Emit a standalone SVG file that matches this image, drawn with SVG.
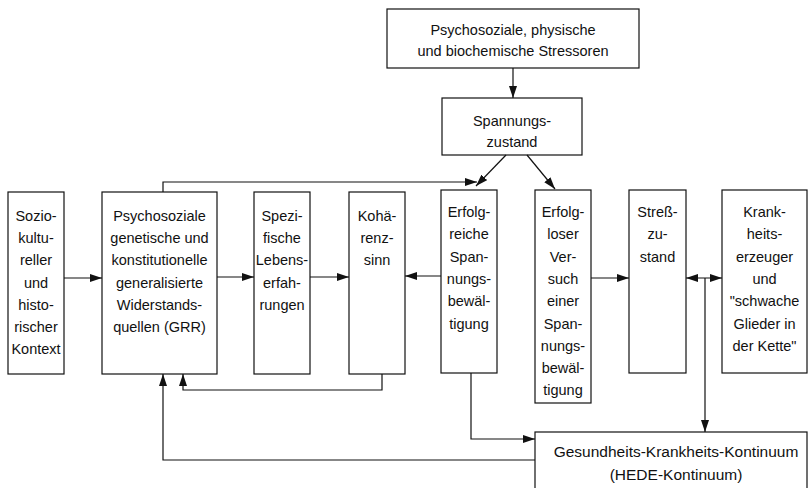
<svg xmlns="http://www.w3.org/2000/svg" width="810" height="488" viewBox="0 0 810 488">
<defs>
<style>
.box{fill:#fff;stroke:#111;stroke-width:1.2}
.t{font-family:"Liberation Sans",Arial,sans-serif;font-size:14.5px;fill:#111;text-anchor:middle}
.big{font-size:15.5px}
.c{fill:none;stroke:#111;stroke-width:1.2}
</style>
<marker id="ah" viewBox="0 0 12 8" refX="12" refY="4" markerWidth="12" markerHeight="8" markerUnits="userSpaceOnUse" orient="auto">
<path d="M0,0 L12,4 L0,8 Z" fill="#111"/>
</marker>
<marker id="ahs" viewBox="0 0 12 8" refX="0" refY="4" markerWidth="12" markerHeight="8" markerUnits="userSpaceOnUse" orient="auto">
<path d="M12,0 L0,4 L12,8 Z" fill="#111"/>
</marker>
</defs>
<rect width="810" height="488" fill="#fff"/>

<g id="stressoren">
<rect class="box" x="387" y="9" width="252" height="59"/>
<text class="t" x="513" y="35">Psychosoziale, physische</text>
<text class="t" x="513" y="56">und biochemische Stressoren</text>
</g>

<g id="spannungszustand">
<rect class="box" x="442" y="98" width="140" height="57"/>
<text class="t" x="512" y="126">Spannungs-</text>
<text class="t" x="512" y="147">zustand</text>
</g>

<g id="sozio">
<rect class="box" x="8" y="192" width="56" height="182"/>
<text class="t" x="36" y="221">Sozio-</text>
<text class="t" x="36" y="243.2">kultu-</text>
<text class="t" x="36" y="265.4">reller</text>
<text class="t" x="36" y="287.6">und</text>
<text class="t" x="36" y="309.8">histo-</text>
<text class="t" x="36" y="332">rischer</text>
<text class="t" x="36" y="354.2">Kontext</text>
</g>

<g id="grr">
<rect class="box" x="102" y="192" width="115" height="182"/>
<text class="t" x="159.5" y="221">Psychosoziale</text>
<text class="t" x="159.5" y="243.2">genetische und</text>
<text class="t" x="159.5" y="265.4">konstitutionelle</text>
<text class="t" x="159.5" y="287.6">generalisierte</text>
<text class="t" x="159.5" y="309.8">Widerstands-</text>
<text class="t" x="159.5" y="332">quellen (GRR)</text>
</g>

<g id="lebenserfahrungen">
<rect class="box" x="254" y="192" width="56" height="182"/>
<text class="t" x="282" y="221">Spezi-</text>
<text class="t" x="282" y="243.2">fische</text>
<text class="t" x="282" y="265.4">Lebens-</text>
<text class="t" x="282" y="287.6">erfah-</text>
<text class="t" x="282" y="309.8">rungen</text>
</g>

<g id="kohaerenzsinn">
<rect class="box" x="349" y="192" width="56" height="182"/>
<text class="t" x="377" y="221">Kohä-</text>
<text class="t" x="377" y="243.2">renz-</text>
<text class="t" x="377" y="265.4">sinn</text>
</g>

<g id="erfolgreich">
<rect class="box" x="441" y="190" width="56" height="183"/>
<text class="t" x="469" y="217">Erfolg-</text>
<text class="t" x="469" y="239.3">reiche</text>
<text class="t" x="469" y="261.6">Span-</text>
<text class="t" x="469" y="283.9">nungs-</text>
<text class="t" x="469" y="306.2">bewäl-</text>
<text class="t" x="469" y="328.5">tigung</text>
</g>

<g id="erfolglos">
<rect class="box" x="535" y="190" width="56" height="213"/>
<text class="t" x="563" y="217">Erfolg-</text>
<text class="t" x="563" y="239.3">loser</text>
<text class="t" x="563" y="261.6">Ver-</text>
<text class="t" x="563" y="283.9">such</text>
<text class="t" x="563" y="306.2">einer</text>
<text class="t" x="563" y="328.5">Span-</text>
<text class="t" x="563" y="350.8">nungs-</text>
<text class="t" x="563" y="373.1">bewäl-</text>
<text class="t" x="563" y="395.4">tigung</text>
</g>

<g id="stresszustand">
<rect class="box" x="629" y="190" width="57" height="183"/>
<text class="t" x="657.5" y="217">Streß-</text>
<text class="t" x="657.5" y="239.3">zu-</text>
<text class="t" x="657.5" y="261.6">stand</text>
</g>

<g id="krankheitserzeuger">
<rect class="box" x="722" y="190" width="85" height="183"/>
<text class="t" x="764.5" y="217">Krank-</text>
<text class="t" x="764.5" y="239.3">heits-</text>
<text class="t" x="764.5" y="261.6">erzeuger</text>
<text class="t" x="764.5" y="283.9">und</text>
<text class="t" x="764.5" y="306.2">"schwache</text>
<text class="t" x="764.5" y="328.5">Glieder in</text>
<text class="t" x="764.5" y="350.8">der Kette"</text>
</g>

<g id="kontinuum">
<rect class="box" x="535" y="432" width="272" height="60"/>
<text class="t big" x="676" y="457">Gesundheits-Krankheits-Kontinuum</text>
<text class="t big" x="676" y="480">(HEDE-Kontinuum)</text>
</g>

<g id="connectors">
<path class="c" d="M513,68 V98" marker-end="url(#ah)"/>
<path class="c" d="M506,155 L476,186" marker-end="url(#ah)"/>
<path class="c" d="M527,155 L555,189" marker-end="url(#ah)"/>
<path class="c" d="M163,192 V182 H477" marker-end="url(#ah)"/>
<path class="c" d="M64,278 H102" marker-end="url(#ah)"/>
<path class="c" d="M217,277 H254" marker-end="url(#ah)"/>
<path class="c" d="M310,277 H349" marker-end="url(#ah)"/>
<path class="c" d="M441,276 H405" marker-end="url(#ah)"/>
<path class="c" d="M591,278 H629" marker-end="url(#ah)"/>
<path class="c" d="M686,278 H722" marker-start="url(#ahs)" marker-end="url(#ah)"/>
<path class="c" d="M705,278 V432" marker-end="url(#ah)"/>
<path class="c" d="M382,374 V390 H183 V374" marker-end="url(#ah)"/>
<path class="c" d="M535,460 H163 V374" marker-end="url(#ah)"/>
<path class="c" d="M471,373 V439 H535" marker-end="url(#ah)"/>
</g>
</svg>
